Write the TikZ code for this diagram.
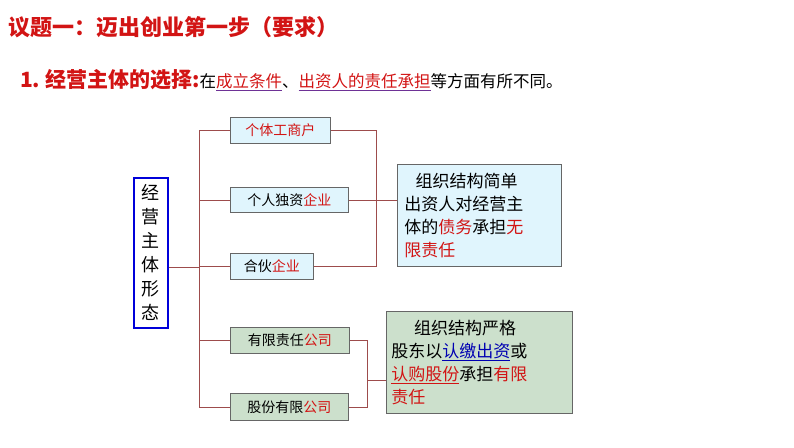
\documentclass[tikz,border=0pt]{standalone}
\usepackage{fontspec}
\setmainfont{Noto Sans CJK SC}
\begin{document}
\begin{tikzpicture}[x=1pt,y=-1pt,
  ln/.style={draw=red!45!black!70, line width=0.8pt},
  cy/.style={draw=black!60, fill=cyan!12, line width=0.8pt, anchor=north west, inner sep=0pt},
  gr/.style={draw=black!60, fill=green!40!black!20!white, line width=0.8pt, anchor=north west, inner sep=0pt},
  txt/.style={font=\fontsize{14}{16}\selectfont}]
\useasboundingbox (0,0) rectangle (794,447);
\definecolor{tr}{RGB}{210,20,20}
\definecolor{ul}{RGB}{110,50,150}
\node[anchor=west, text=tr, font=\fontsize{22}{24}\selectfont\bfseries, inner sep=0pt] (t) at (8,27) {议题一：迈出创业第一步（要求）};
\node[anchor=west, font=\fontsize{16.5}{18}\selectfont, inner sep=0pt] (s) at (20,80)
 {\textcolor{tr}{\fontsize{21}{22}\selectfont\bfseries 1.\ 经营主体的选择:}在\textcolor{ul}{\underline{\textcolor{tr}{成立条件}}}、\textcolor{ul}{\underline{\textcolor{tr}{出资人的责任承担}}}等方面有所不同。};
% left box
\node[draw=blue!85!black, line width=1.5pt, fill=white, minimum width=34pt, minimum height=150pt, anchor=north west, inner sep=0pt, align=center, font=\fontsize{18}{24}\selectfont] (L) at (133,177) {经\\营\\主\\体\\形\\态};
\node[cy, minimum width=100pt, minimum height=26pt, text=tr, txt] (b1) at (230,117) {个体工商户};
\node[cy, minimum width=118pt, minimum height=25pt, txt] (b2) at (230,187) {个人独资\textcolor{tr}{企业}};
\node[cy, minimum width=83pt, minimum height=26pt, txt] (b3) at (230,253) {合伙\textcolor{tr}{企业}};
\node[gr, minimum width=119pt, minimum height=26pt, txt] (b4) at (230,327) {有限责任\textcolor{tr}{公司}};
\node[gr, minimum width=118pt, minimum height=27pt, txt] (b5) at (230,393) {股份有限\textcolor{tr}{公司}};
\node[cy, minimum height=102pt, align=left, font=\fontsize{17}{23}\selectfont, text width=150pt, inner xsep=7pt] (r1) at (397,164)
 {\ \ 组织结构简单\\出资人对经营主\\体的\textcolor{tr}{债务}承担\textcolor{tr}{无}\\\textcolor{tr}{限责任}};
\node[gr, minimum height=102pt, align=left, font=\fontsize{17}{23}\selectfont, text width=176pt, inner xsep=5pt] (r2) at (386,311)
 {\ \ \ \ 组织结构严格\\股东以\textcolor{blue!70!black}{\underline{认缴出资}}或\\\textcolor{tr}{\underline{认购股份}}承担\textcolor{tr}{有限}\\\textcolor{tr}{责任}};
% trunk
\coordinate (tk) at (199,267);
\draw[ln] (L.east |- tk) -- (tk);
\draw[ln] (199,130) -- (199,407);
\foreach \b in {b1,b2,b3,b4,b5}{\draw[ln] (199,0 |- \b.west) -- (\b.west);}
% bracket 1
\draw[ln] (b1.east) -- (376,0 |- b1.east) -- (376,0 |- b3.east) -- (b3.east);
\draw[ln] (b2.east) -- (r1.west |- b2.east);
% bracket 2
\draw[ln] (b4.east) -- (367,0 |- b4.east) -- (367,0 |- b5.east) -- (b5.east);
\draw[ln] (367,380) -- (r2.west |- 0,380);
\end{tikzpicture}
\end{document}
